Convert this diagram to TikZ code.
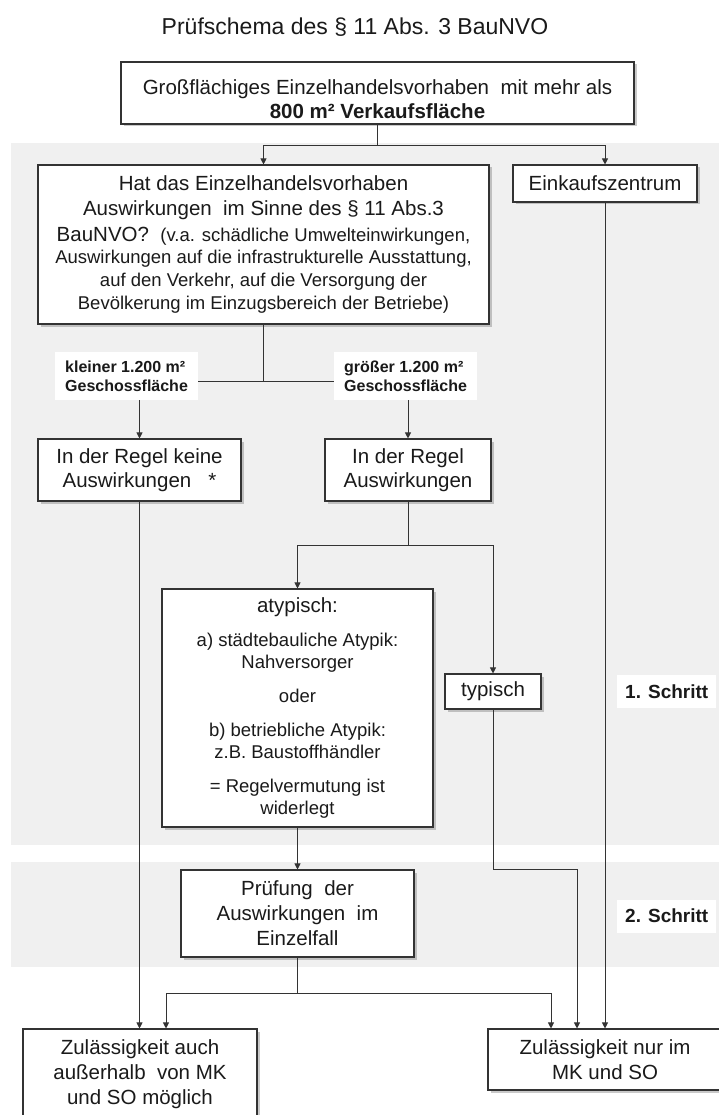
\documentclass[tikz,border=0pt]{standalone}
\usepackage{fontspec}
\setmainfont{Liberation Sans}
\usetikzlibrary{arrows.meta,shadows}
\definecolor{band}{HTML}{F0F0F0}
\definecolor{ln}{HTML}{333333}
\definecolor{txt}{HTML}{1A1A1A}
\begin{document}
\begin{tikzpicture}[x=1pt,y=-1pt,
  box/.style={draw=ln, line width=1.1pt, fill=white, align=center, inner sep=0pt, text=txt,
    font=\fontsize{20.5}{24.5}\selectfont,
    drop shadow={shadow xshift=2.5pt, shadow yshift=-2.5pt, opacity=0.35, fill=black!60}},
  lbl/.style={fill=white, align=left, inner xsep=10pt, inner ysep=0pt, text=txt, anchor=west,
    font=\bfseries\fontsize{16}{19}\selectfont},
  stepl/.style={fill=white, align=left, inner xsep=8pt, inner ysep=0pt, text=txt, anchor=west,
    minimum height=33pt, font=\bfseries\fontsize{19}{22}\selectfont},
  conn/.style={draw=ln, line width=0.9pt},
  arr/.style={conn, -{Triangle[length=6pt,width=6pt]}},
]
\useasboundingbox (0,0) rectangle (718,1115);
\fill[white] (0,0) rectangle (718,1115);
% bands
\fill[band] (11,143) rectangle (720,845);
\fill[band] (11,862) rectangle (720,967);

% title
\node[font=\fontsize{23}{27}\selectfont, text=txt] (title) at (355,27) {Prüfschema des § 11 Abs. 3 BauNVO};

% nodes
\node[box, minimum width=513pt, minimum height=62pt] (top) at (377.5,93)
  {\rule{0pt}{27pt}Großflächiges Einzelhandelsvorhaben\ \ mit mehr als\\\textbf{800 m² Verkaufsfläche}};

\node[box, minimum width=451pt, minimum height=159pt] (ask) at (263.5,244.5)
  {Hat das Einzelhandelsvorhaben\\[1pt]
   Auswirkungen\ \ im Sinne des § 11 Abs.3\\[1pt]
   BauNVO?\ \ {\fontsize{18.5}{22}\selectfont (v.a. schädliche Umwelteinwirkungen,}\\[-2pt]
   {\fontsize{18.5}{22}\selectfont Auswirkungen auf die infrastrukturelle Ausstattung,}\\[-2pt]
   {\fontsize{18.5}{22}\selectfont auf den Verkehr, auf die Versorgung der}\\[-1pt]
   {\fontsize{18.5}{22}\selectfont Bevölkerung im Einzugsbereich der Betriebe)}};

\node[box, minimum width=184pt, minimum height=37pt] (ekz) at (605,183.5) {Einkaufszentrum};

\node[lbl, minimum height=48pt] (lblL) at (55,376) {kleiner 1.200 m²\\Geschossfläche};
\node[lbl, minimum height=48pt] (lblR) at (334,376) {größer 1.200 m²\\Geschossfläche};

\node[box, minimum width=203pt, minimum height=62pt] (keine) at (139.5,470)
  {In der Regel keine\\Auswirkungen\ \ \ *};
\node[box, minimum width=166pt, minimum height=62pt] (regel) at (408,470)
  {In der Regel\\Auswirkungen};

\node[box, minimum width=271pt, minimum height=238pt, font=\fontsize{18.5}{22}\selectfont] (atyp) at (297.5,708)
  {{\fontsize{20.5}{24}\selectfont atypisch:}\\[12pt]
   a) städtebauliche Atypik:\\
   Nahversorger\\[12pt]
   oder\\[12pt]
   b) betriebliche Atypik:\\
   z.B. Baustoffhändler\\[12pt]
   = Regelvermutung ist\\
   widerlegt};

\node[box, minimum width=96pt, minimum height=35pt] (typ) at (493,691.5) {typisch};

\node[stepl] (s1) at (617,691.5) {1. Schritt};

\node[box, minimum width=233pt, minimum height=87pt, font=\fontsize{20.5}{25}\selectfont] (pruef) at (297.5,913.5)
  {Prüfung\ \ der\\Auswirkungen\ \ im\\Einzelfall};

\node[stepl] (s2) at (617,916) {2. Schritt};

\node[box, minimum width=234pt, minimum height=90pt, font=\fontsize{20.5}{25}\selectfont] (resL) at (140,1074)
  {Zulässigkeit auch\\außerhalb\ \ von MK\\und SO möglich};
\node[box, minimum width=234pt, minimum height=61pt, font=\fontsize{20.5}{25}\selectfont] (resR) at (605,1059.5)
  {Zulässigkeit nur im\\MK und SO};

% connectors
\draw[conn] (top.south) -- ++(0,20.5) coordinate (j1);
\draw[arr] (j1) -| (ask.north);
\draw[arr] (j1) -| (ekz.north);

\draw[conn] (ask.south) -- ++(0,57) coordinate (j2);
\draw[conn] (j2) -- (j2 -| lblL.east);
\draw[conn] (j2) -- (j2 -| lblR.west);
\draw[arr] (keine.north |- lblL.south) -- (keine.north);
\draw[arr] (regel.north |- lblR.south) -- (regel.north);

\draw[conn] (regel.south) -- ++(0,44) coordinate (j3);
\draw[arr] (j3) -| (atyp.north);
\draw[arr] (j3) -| (typ.north);

\draw[arr] (atyp.south) -- (pruef.north);
\draw[arr] (typ.south) -- ++(0,160) -| ([xshift=-28pt]resR.north);
\draw[arr] (ekz.south) -- (ekz.south |- resR.north);
\draw[arr] (keine.south) -- (keine.south |- resL.north);

\draw[conn] (pruef.south) -- ++(0,36) coordinate (j4);
\draw[arr] (j4) -| ([xshift=26pt]resL.north);
\draw[arr] (j4) -| ([xshift=-54pt]resR.north);
\end{tikzpicture}
\end{document}
